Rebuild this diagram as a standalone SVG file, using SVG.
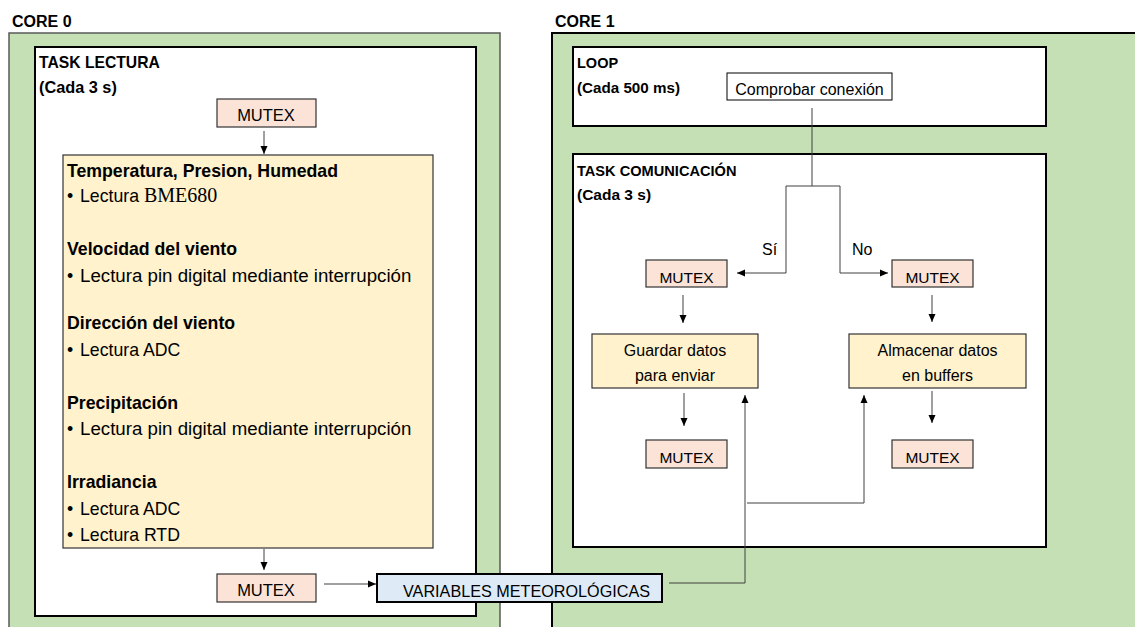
<svg xmlns="http://www.w3.org/2000/svg" width="1135" height="627" viewBox="0 0 1135 627">
<defs>
<marker id="ah" viewBox="0 0 8 8" markerWidth="8" markerHeight="8" refX="8" refY="4" orient="auto" markerUnits="userSpaceOnUse">
<path d="M0,0.5 L8,4 L0,7.5 z" fill="#000"/>
</marker>
<style>
text{font-family:"Liberation Sans",Arial,sans-serif;fill:#000}
.b{font-weight:bold}
.core{fill:#c5e0b4}
.task{fill:#fff;stroke:#000;stroke-width:2}
.mutex{fill:#fbe3d8;stroke:#333;stroke-width:1.2}
.yel{fill:#fff2cc;stroke:#333;stroke-width:1.2}
.c{text-anchor:middle}
.con{fill:none;stroke:#404040;stroke-width:1}
.arr{marker-end:url(#ah)}
</style>
</defs>
<rect width="1135" height="627" fill="#fff"/>

<g id="core0">
<text class="b" x="12" y="27" font-size="16">CORE 0</text>
<rect class="core" x="9" y="33" width="491" height="600" stroke="#595959" stroke-width="1.5"/>
</g>
<g id="core1">
<text class="b" x="555" y="27" font-size="16">CORE 1</text>
<rect class="core" x="552" y="33" width="600" height="600" stroke="#000" stroke-width="2"/>
</g>

<g id="task-lectura">
<rect class="task" x="35" y="47" width="441" height="569"/>
<text class="b" x="39" y="68" font-size="15.7">TASK LECTURA</text>
<text class="b" x="39" y="93" font-size="16.3">(Cada 3 s)</text>
</g>

<g id="mutex-l1">
<rect class="mutex" x="217" y="99" width="99" height="28"/>
<text class="c" x="266" y="121" font-size="16.5">MUTEX</text>
</g>

<g id="lecturas">
<rect class="yel" x="63" y="155" width="370" height="393"/>
<g font-size="17.7">
<text class="b" x="67" y="177">Temperatura, Presion, Humedad</text>
<text x="67" y="202">•</text>
<text x="80" y="202">Lectura <tspan font-family="Liberation Serif, Times New Roman, serif" font-size="20">BME680</tspan></text>
<text class="b" x="67" y="255">Velocidad del viento</text>
<text x="67" y="282">•</text>
<text x="80" y="282" font-size="18.7">Lectura pin digital mediante interrupción</text>
<text class="b" x="67" y="329">Dirección del viento</text>
<text x="67" y="356">•</text>
<text x="80" y="356">Lectura ADC</text>
<text class="b" x="67" y="409">Precipitación</text>
<text x="67" y="435">•</text>
<text x="80" y="435" font-size="18.7">Lectura pin digital mediante interrupción</text>
<text class="b" x="67" y="488">Irradiancia</text>
<text x="67" y="515">•</text>
<text x="80" y="515">Lectura ADC</text>
<text x="67" y="541">•</text>
<text x="80" y="541">Lectura RTD</text>
</g>
</g>

<g id="mutex-l2">
<rect class="mutex" x="217" y="574" width="99" height="28"/>
<text class="c" x="266" y="596" font-size="16.5">MUTEX</text>
</g>

<g id="variables">
<rect x="377" y="574" width="285" height="28" fill="#deebf7" stroke="#000" stroke-width="2"/>
<text x="403" y="597" font-size="16.2">VARIABLES METEOROLÓGICAS</text>
</g>

<g id="loop">
<rect class="task" x="573" y="47" width="473" height="79"/>
<text class="b" x="577" y="68" font-size="14.5">LOOP</text>
<text class="b" x="577" y="93" font-size="15.2">(Cada 500 ms)</text>
</g>

<g id="comprobar">
<rect x="727" y="73" width="165" height="27" fill="#fff" stroke="#000" stroke-width="1"/>
<text class="c" x="809.5" y="95" font-size="16">Comprobar conexión</text>
</g>

<g id="task-comunicacion">
<rect class="task" x="573" y="154" width="473" height="393"/>
<text class="b" x="577" y="176" font-size="14.6">TASK COMUNICACIÓN</text>
<text class="b" x="577" y="200" font-size="15.5">(Cada 3 s)</text>
</g>

<g id="mutex-c1">
<rect class="mutex" x="646" y="260" width="81" height="27"/>
<text class="c" x="686.5" y="283" font-size="15.5">MUTEX</text>
</g>
<g id="mutex-c2">
<rect class="mutex" x="892" y="260" width="81" height="27"/>
<text class="c" x="932.5" y="283" font-size="15.5">MUTEX</text>
</g>
<g id="guardar">
<rect class="yel" x="592" y="334" width="166" height="54"/>
<text class="c" x="675" y="356" font-size="16">Guardar datos</text>
<text class="c" x="675" y="381" font-size="16">para enviar</text>
</g>
<g id="almacenar">
<rect class="yel" x="849" y="334" width="177" height="54"/>
<text class="c" x="937.5" y="356" font-size="16">Almacenar datos</text>
<text class="c" x="937.5" y="381" font-size="16">en buffers</text>
</g>
<g id="mutex-c3">
<rect class="mutex" x="646" y="440" width="81" height="28"/>
<text class="c" x="686.5" y="463" font-size="15.5">MUTEX</text>
</g>
<g id="mutex-c4">
<rect class="mutex" x="892" y="440" width="81" height="28"/>
<text class="c" x="932.5" y="463" font-size="15.5">MUTEX</text>
</g>

<g id="connectors">
<line class="con arr" x1="264" y1="131" x2="264" y2="154"/>
<line class="con arr" x1="264" y1="549" x2="264" y2="570"/>
<line class="con arr" x1="324" y1="584" x2="376" y2="584"/>
<polyline class="con" points="812,108 812,186"/>
<polyline class="con" points="786,186 840,186"/>
<polyline class="con arr" points="786,186 786,273 737,273"/>
<polyline class="con arr" points="840,186 840,273 888,273"/>
<line class="con arr" x1="683" y1="295" x2="683" y2="323"/>
<line class="con arr" x1="684" y1="393" x2="684" y2="426"/>
<line class="con arr" x1="932" y1="295" x2="932" y2="322"/>
<line class="con arr" x1="932" y1="391" x2="932" y2="423"/>
<polyline class="con arr" points="669,583 745,583 745,395"/>
<polyline class="con arr" points="747,503 864,503 864,395"/>
<text x="762" y="255" font-size="16">Sí</text>
<text x="852" y="255" font-size="16">No</text>
</g>
</svg>
